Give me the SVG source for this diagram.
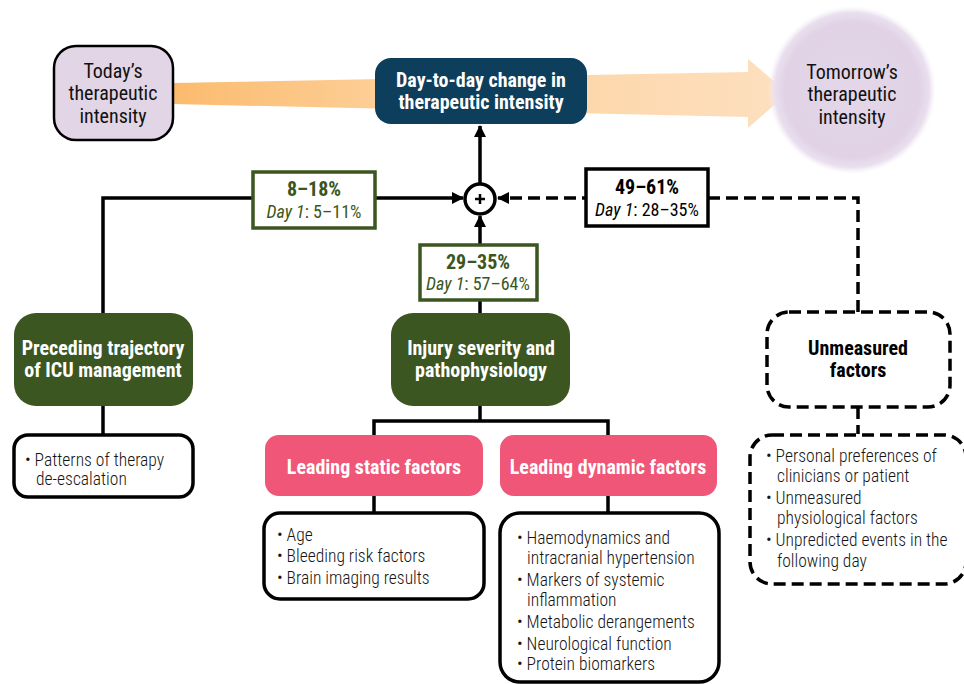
<svg xmlns="http://www.w3.org/2000/svg" width="964" height="684" viewBox="0 0 964 684">
<defs>
<linearGradient id="band" x1="173" y1="0" x2="790" y2="0" gradientUnits="userSpaceOnUse">
<stop offset="0" stop-color="#fbbb6e"/>
<stop offset="0.35" stop-color="#fdcf98"/>
<stop offset="1" stop-color="#fde0c0"/>
</linearGradient>
<radialGradient id="glow" cx="0.5" cy="0.5" r="0.5">
<stop offset="0" stop-color="#e4d7e9"/>
<stop offset="0.8" stop-color="#e1d2e6"/>
<stop offset="0.92" stop-color="#e9dfee"/>
<stop offset="1" stop-color="#f4eef6" stop-opacity="0"/>
</radialGradient>
<marker id="ah" viewBox="0 0 12 12" refX="11" refY="6" markerWidth="12" markerHeight="12" markerUnits="userSpaceOnUse" orient="auto">
<path d="M0,0 L12,6 L0,12 z" fill="#000" stroke="none"/>
</marker>
<style>
text{font-family:"Roboto Condensed","Liberation Sans Narrow",Roboto,sans-serif;font-stretch:condensed}
.t{font-size:20px;font-weight:700;fill:#fff;text-anchor:middle}
.r{font-size:20px;fill:#111;text-anchor:middle}
.b{font-size:17.5px;font-weight:300;fill:#151515}
.pct{font-size:20px;font-weight:700;text-anchor:middle}
.day{font-size:18px;text-anchor:middle}
.g{fill:#3b5620}
.k{fill:#000}
.green{fill:#3b5620}
.pink{fill:#ef5677}
.list{fill:#fff;stroke:#000;stroke-width:3.5}
.dash{stroke-dasharray:12 6}
.line{fill:none;stroke:#000;stroke-width:3.5}
</style>
</defs>
<rect width="964" height="684" fill="#fff"/>

<g id="band-arrow">
<polygon points="173,83 748,72 748,59 788,93 748,128 748,117 173,104" fill="url(#band)"/>
</g>

<g id="tomorrow">
<circle cx="852" cy="90" r="84" fill="url(#glow)"/>
<text class="r" x="852" y="79">Tomorrow’s</text>
<text class="r" x="852" y="101">therapeutic</text>
<text class="r" x="852" y="124">intensity</text>
</g>

<g id="today">
<rect x="54" y="46" width="119" height="94" rx="22" fill="#e2d5e5" stroke="#000" stroke-width="2.5"/>
<text class="r" x="113" y="78">Today’s</text>
<text class="r" x="113" y="100">therapeutic</text>
<text class="r" x="113" y="123">intensity</text>
</g>

<g id="connectors">
<path class="line" d="M480,183 V126" marker-end="url(#ah)"/>
<path class="line" d="M103,313 V198 H463" marker-end="url(#ah)"/>
<path class="line" d="M480,313 V216" marker-end="url(#ah)"/>
<path class="line dash" d="M858,312 V198 H498" marker-end="url(#ah)"/>
<path class="line" d="M103,406 V435"/>
<path class="line" d="M480,406 V421 M374,435 V421 H608 V435"/>
<path class="line" d="M374,496 V513"/>
<path class="line" d="M608,496 V513"/>
<path class="line dash" d="M858,407 V434"/>
</g>

<g id="day-to-day">
<rect x="375" y="58" width="212" height="66" rx="16" fill="#0d3e5b"/>
<text class="t" x="481" y="87">Day-to-day change in</text>
<text class="t" x="481" y="109">therapeutic intensity</text>
</g>

<g id="plus">
<circle cx="480" cy="199" r="15" fill="#fff" stroke="#000" stroke-width="3.5"/>
<path d="M475,199 H485 M480,194 V204" stroke="#000" stroke-width="2.5"/>
</g>

<g id="label-preceding">
<rect x="253" y="172" width="122" height="56" fill="#fff" stroke="#3b5620" stroke-width="3.5"/>
<text class="pct g" x="314" y="196">8–18%</text>
<text class="day g" x="314" y="218"><tspan font-style="italic">Day 1</tspan>: 5–11%</text>
</g>

<g id="label-unmeasured">
<rect x="586" y="169" width="122" height="57" fill="#fff" stroke="#000" stroke-width="3.5"/>
<text class="pct k" x="647" y="194">49–61%</text>
<text class="day k" x="647" y="216"><tspan font-style="italic">Day 1</tspan>: 28–35%</text>
</g>

<g id="label-injury">
<rect x="420" y="245" width="117" height="55" fill="#fff" stroke="#3b5620" stroke-width="3.5"/>
<text class="pct g" x="478" y="269">29–35%</text>
<text class="day g" x="478" y="290"><tspan font-style="italic">Day 1</tspan>: 57–64%</text>
</g>

<g id="preceding">
<rect class="green" x="14" y="313" width="179" height="93" rx="22"/>
<text class="t" x="103" y="355">Preceding trajectory</text>
<text class="t" x="103" y="377">of ICU management</text>
</g>

<g id="injury">
<rect class="green" x="391" y="313" width="179" height="93" rx="22"/>
<text class="t" x="481" y="355">Injury severity and</text>
<text class="t" x="481" y="377">pathophysiology</text>
</g>

<g id="unmeasured">
<rect class="dash" x="767" y="312" width="183" height="95" rx="22" fill="#fff" stroke="#000" stroke-width="3.5"/>
<text class="t" x="858" y="355" style="fill:#000">Unmeasured</text>
<text class="t" x="858" y="377" style="fill:#000">factors</text>
</g>

<g id="preceding-list">
<rect class="list" x="14" y="435" width="179" height="62" rx="14"/>
<text class="b" x="25" y="466">• Patterns of therapy</text>
<text class="b" x="36" y="485">de-escalation</text>
</g>

<g id="static">
<rect class="pink" x="265" y="435" width="218" height="61" rx="14"/>
<text class="t" x="374" y="474">Leading static factors</text>
</g>

<g id="dynamic">
<rect class="pink" x="500" y="435" width="217" height="61" rx="14"/>
<text class="t" x="608" y="474">Leading dynamic factors</text>
</g>

<g id="static-list">
<rect class="list" x="264" y="513" width="220" height="86" rx="16"/>
<text class="b" x="277" y="541">• Age</text>
<text class="b" x="277" y="562">• Bleeding risk factors</text>
<text class="b" x="277" y="584">• Brain imaging results</text>
</g>

<g id="dynamic-list">
<rect class="list" x="500" y="513" width="219" height="169" rx="20"/>
<text class="b" x="517" y="544">• Haemodynamics and</text>
<text class="b" x="527" y="564">intracranial hypertension</text>
<text class="b" x="517" y="586">• Markers of systemic</text>
<text class="b" x="527" y="606">inflammation</text>
<text class="b" x="517" y="628">• Metabolic derangements</text>
<text class="b" x="517" y="650">• Neurological function</text>
<text class="b" x="517" y="670">• Protein biomarkers</text>
</g>

<g id="unmeasured-list">
<rect class="list dash" x="750" y="435" width="216" height="149" rx="22"/>
<text class="b" x="766" y="462">• Personal preferences of</text>
<text class="b" x="777" y="482">clinicians or patient</text>
<text class="b" x="766" y="504">• Unmeasured</text>
<text class="b" x="777" y="524">physiological factors</text>
<text class="b" x="766" y="546">• Unpredicted events in the</text>
<text class="b" x="777" y="567">following day</text>
</g>
</svg>
